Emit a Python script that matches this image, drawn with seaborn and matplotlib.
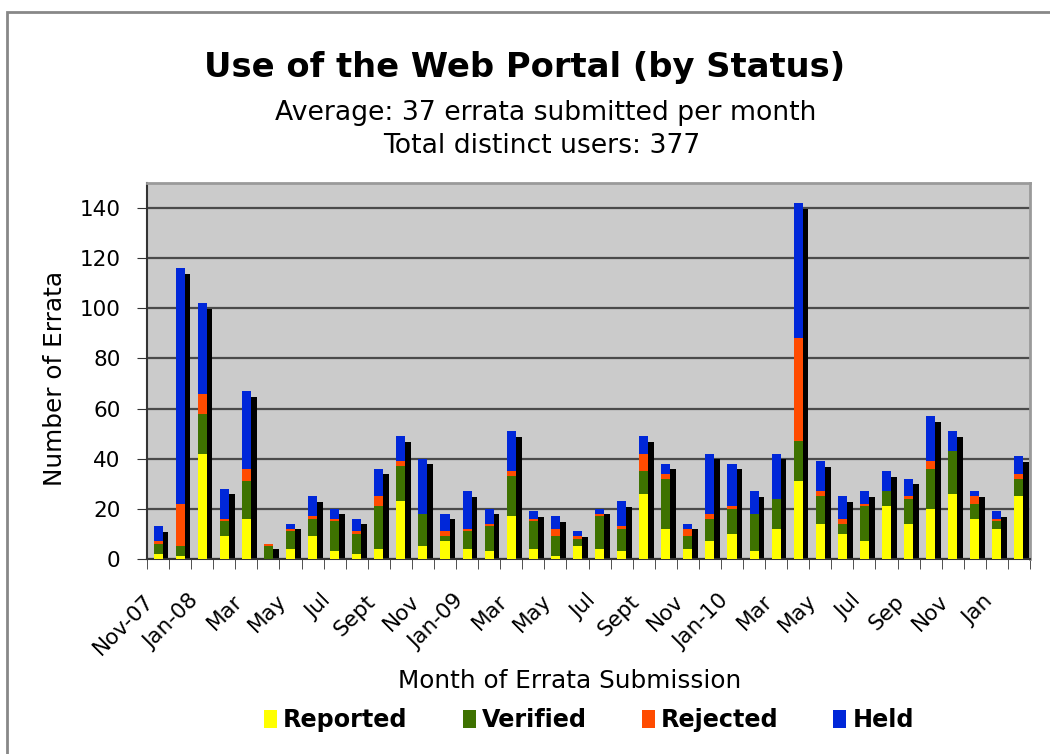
import numpy as np
import pandas as pd
import seaborn as sns
import matplotlib.pyplot as plt
from matplotlib.patches import Patch, Rectangle

# months Nov-07 .. Feb-11
months = ["Nov-07", "Dec-07", "Jan-08", "Feb-08", "Mar-08", "Apr-08", "May-08", "Jun-08",
          "Jul-08", "Aug-08", "Sep-08", "Oct-08", "Nov-08", "Dec-08", "Jan-09", "Feb-09",
          "Mar-09", "Apr-09", "May-09", "Jun-09", "Jul-09", "Aug-09", "Sep-09", "Oct-09",
          "Nov-09", "Dec-09", "Jan-10", "Feb-10", "Mar-10", "Apr-10", "May-10", "Jun-10",
          "Jul-10", "Aug-10", "Sep-10", "Oct-10", "Nov-10", "Dec-10", "Jan-11", "Feb-11"]
tick_labels = ["Nov-07", "Jan-08", "Mar", "May", "Jul", "Sept", "Nov", "Jan-09", "Mar", "May",
               "Jul", "Sept", "Nov", "Jan-10", "Mar", "May", "Jul", "Sep", "Nov", "Jan"]

reported = [2, 1, 42, 9, 16, 0, 4, 9, 3, 2, 4, 23, 5, 7, 4, 3, 17, 4, 1, 5,
            4, 3, 26, 12, 4, 7, 10, 3, 12, 31, 14, 10, 7, 21, 14, 20, 26, 16, 12, 25]
verified = [4, 4, 16, 6, 15, 5, 7, 7, 12, 8, 17, 14, 13, 2, 7, 10, 16, 11, 8, 3,
            13, 9, 9, 20, 5, 9, 10, 15, 12, 16, 11, 4, 14, 6, 10, 16, 17, 6, 3, 7]
rejected = [1, 17, 8, 1, 5, 1, 1, 1, 1, 1, 4, 2, 0, 2, 1, 1, 2, 1, 3, 1,
            1, 1, 7, 2, 3, 2, 1, 0, 0, 41, 2, 2, 1, 0, 1, 3, 0, 3, 1, 2]
held = [6, 94, 36, 12, 31, 0, 2, 8, 4, 5, 11, 10, 22, 7, 15, 6, 16, 3, 5, 2,
        2, 10, 7, 4, 2, 24, 17, 9, 18, 54, 12, 9, 5, 8, 7, 18, 8, 2, 3, 7]

statuses = ["Reported", "Verified", "Rejected", "Held"]
colors = ["#ffff00", "#3e7200", "#ff4b00", "#0027d9"]

df = pd.DataFrame({"month": months, "Reported": reported, "Verified": verified,
                   "Rejected": rejected, "Held": held})
cum = df[statuses].cumsum(axis=1)
cum["month"] = df["month"]
total = cum["Held"]

fig = plt.figure(figsize=(10.5, 7.54), dpi=100)
ax = fig.add_axes([147 / 1050, 1 - 559 / 754, 883 / 1050, 376 / 754])
ax.set_facecolor("#cbcbcb")

# black "3d" shadow behind each bar
x = np.arange(len(months))
ax.bar(x + 0.33, np.clip(total - 2.2, 0, None), width=0.27, color="black", zorder=2)

# stacked bars, tallest layer first
for st, c in reversed(list(zip(statuses, colors))):
    sns.barplot(data=cum, x="month", y=st, order=months, color=c, width=0.41,
                errorbar=None, ax=ax, zorder=3, saturation=1)

ax.set_ylim(0, 150)
ax.set_xlim(-0.5, len(months) - 0.5)
ax.set_yticks(range(0, 141, 20))
ax.grid(axis="y", color="#4a4a4a", lw=1.6, zorder=1)
ax.grid(axis="x", visible=False)
ax.set_axisbelow(True)

ax.set_xticks(x[::2])
ax.set_xticklabels(tick_labels, rotation=45, ha="right", fontsize=15.5)
ax.set_xticks(np.arange(-0.5, len(months)), minor=True)
ax.tick_params(axis="x", which="major", length=0, pad=23)
ax.tick_params(axis="x", which="minor", length=7, color="#333333")
ax.tick_params(axis="y", length=7, pad=12, labelsize=15.5, color="#333333")
ax.set_xlabel("")
ax.set_ylabel("")

for s in ["left", "bottom"]:
    ax.spines[s].set_color("#333333")
    ax.spines[s].set_linewidth(1.5)
for s in ["top", "right"]:
    ax.spines[s].set_color("#9a9a9a")
    ax.spines[s].set_linewidth(2)

fig.text(525 / 1050, 1 - 68 / 754, "Use of the Web Portal (by Status)",
         ha="center", va="center", fontsize=24.3, fontweight="bold")
fig.text(546 / 1050, 1 - 113 / 754, "Average: 37 errata submitted per month",
         ha="center", va="center", fontsize=19.2)
fig.text(542 / 1050, 1 - 146 / 754, "Total distinct users: 377",
         ha="center", va="center", fontsize=19.2)
fig.text(55 / 1050, 1 - 378 / 754, "Number of Errata", rotation=90,
         ha="center", va="center", fontsize=17.8)
fig.text(570 / 1050, 1 - 681 / 754, "Month of Errata Submission",
         ha="center", va="center", fontsize=17.8)

handles = [Patch(facecolor=c, edgecolor="none", label=s) for s, c in zip(statuses, colors)]
fig.legend(handles=handles, loc="center", bbox_to_anchor=(589 / 1050, 1 - 720 / 754),
           ncol=4, frameon=False, prop={"weight": "bold", "size": 17.2},
           handlelength=0.55, handleheight=0.8, handletextpad=0.25, columnspacing=2.3)

fig.patches.append(Rectangle((7 / 1050, -0.1), 1.2, 1.1 - 12 / 754, transform=fig.transFigure,
                             fill=False, edgecolor="#888888", lw=2))

fig.savefig("out.png", dpi=100)
